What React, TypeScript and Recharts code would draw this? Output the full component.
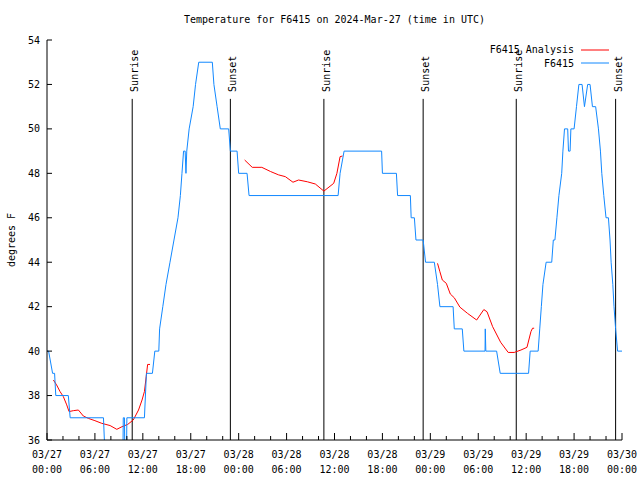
import { LineChart, Line, XAxis, YAxis, ReferenceLine, Legend } from "recharts";

const FONT = '"DejaVu Sans Mono", monospace';

// hours since 03/27 00:00 UTC
const hourTicks = [0, 2, 4, 6, 8, 10, 12, 14, 16, 18, 20, 22, 24, 26, 28, 30, 32, 34, 36, 38, 40, 42, 44, 46, 48, 50, 52, 54, 56, 58, 60, 62, 64, 66, 68, 70, 72];
const dayLabels = ["03/27", "03/27", "03/27", "03/27", "03/28", "03/28", "03/28", "03/28", "03/29", "03/29", "03/29", "03/29", "03/30"];
const timeLabels = ["00:00", "06:00", "12:00", "18:00", "00:00", "06:00", "12:00", "18:00", "00:00", "06:00", "12:00", "18:00", "00:00"];
const tempTicks = [36, 38, 40, 42, 44, 46, 48, 50, 52, 54];
const legendOrder = ["F6415 Analysis", "F6415"];

const sunrise = [10.67, 34.67, 58.76];
const sunset = [22.96, 47.1, 71.2];

// station observations [hour, degF]
const obsPoints: [number, number][] = [
  [0, 40], [0.2, 40], [0.7, 39], [0.95, 39], [1.1, 38], [2.67, 38], [2.9, 37], [7.07, 37],
  [7.3, 35], [9.5, 35], [9.55, 37], [9.7, 37], [9.75, 35], [9.95, 35], [10.0, 37], [12.2, 37],
  [12.45, 39], [13.2, 39], [13.5, 40], [14.0, 40], [14.1, 41], [14.5, 42], [14.9, 43], [15.4, 44],
  [15.9, 45], [16.4, 46], [16.7, 47], [16.9, 48], [17.1, 49], [17.3, 49], [17.4, 48], [17.5, 49],
  [17.8, 50], [18.3, 51], [18.6, 52], [19.0, 53], [20.7, 53], [20.9, 52], [21.3, 51], [21.7, 50],
  [22.75, 50], [22.96, 49], [23.8, 49], [24.0, 48], [25.05, 48], [25.3, 47], [36.45, 47], [36.7, 48],
  [37.2, 49], [41.9, 49], [42.0, 48], [43.75, 48], [43.9, 47], [45.5, 47], [45.6, 46], [46.0, 46],
  [46.2, 45], [47.1, 45], [47.4, 44], [48.5, 44], [48.9, 43], [49.2, 42], [50.85, 42], [51.0, 41],
  [52.0, 41], [52.2, 40], [54.85, 40], [54.88, 41], [54.95, 40], [56.3, 40], [56.75, 39], [60.3, 39],
  [60.5, 40], [61.5, 40], [61.7, 41], [61.9, 42], [62.1, 43], [62.5, 44], [63.2, 44], [63.4, 45],
  [63.6, 45], [63.85, 46], [64.1, 47], [64.45, 48], [64.6, 49], [64.8, 50], [65.2, 50], [65.3, 49],
  [65.5, 49], [65.6, 50], [66.0, 50], [66.3, 51], [66.6, 52], [67.0, 52], [67.3, 51], [67.7, 52],
  [68.0, 52], [68.3, 51], [68.7, 51], [69.05, 50], [69.3, 49], [69.47, 48], [69.72, 47], [70.0, 46],
  [70.3, 46], [70.5, 45], [70.64, 44], [70.85, 43], [71.0, 42], [71.2, 41], [71.45, 40], [72, 40],
];

// analysis runs [hour, degF]
const analysisA: [number, number][] = [
  [0.8, 38.7], [1.2, 38.48], [1.63, 38.18], [2.05, 37.95], [2.47, 37.58], [2.76, 37.28], [3.3, 37.32],
  [3.93, 37.35], [4.55, 37.08], [5.2, 36.97], [6.0, 36.87], [6.86, 36.75], [7.9, 36.65], [8.74, 36.48],
  [9.4, 36.6], [10.1, 36.7], [10.8, 36.9], [11.46, 37.35], [11.9, 37.8], [12.2, 38.18], [12.42, 38.85],
  [12.6, 39.4], [12.9, 39.4],
];
const analysisB: [number, number][] = [
  [24.75, 48.6], [25.7, 48.27], [26.9, 48.27], [28.0, 48.08], [29.0, 47.93], [29.85, 47.85], [30.8, 47.6],
  [31.5, 47.7], [32.6, 47.62], [33.6, 47.52], [34.67, 47.2], [35.9, 47.55], [36.3, 48.0], [36.7, 48.75],
  [37.0, 48.78],
];
const analysisC: [number, number][] = [
  [48.9, 43.95], [49.2, 43.57], [49.5, 43.2], [50.0, 43.05], [50.5, 42.57], [51.0, 42.4], [51.7, 41.98],
  [52.65, 41.7], [53.8, 41.4], [54.7, 41.87], [55.1, 41.77], [55.8, 41.1], [56.8, 40.4], [57.75, 39.94],
  [58.5, 39.94], [59.35, 40.05], [60.1, 40.17], [60.6, 40.88], [60.8, 41.03], [61.0, 41.03],
];

const toRows = (pts: [number, number][]) => pts.map(([h, t]) => ({ h, t }));

const RED = "#ff0000";
const BLUE = "#1188ff";

function BottomTick({ x, y, payload }: any) {
  const v = payload.value;
  const major = v % 6 === 0;
  const i = v / 6;
  return (
    <g>
      <line x1={x} x2={x} y1={y} y2={y - (major ? 7 : 4)} stroke="#000" />
      {major && (
        <text x={x} textAnchor="middle" fontFamily={FONT} fontSize={10} fill="#000">
          <tspan x={x} y={y + 18}>{dayLabels[i]}</tspan>
          <tspan x={x} y={y + 33}>{timeLabels[i]}</tspan>
        </text>
      )}
    </g>
  );
}

function TopTick({ x, y, payload }: any) {
  const major = payload.value % 6 === 0;
  return <line x1={x} x2={x} y1={y} y2={y + (major ? 7 : 4)} stroke="#000" />;
}

function LeftTick({ x, y, payload }: any) {
  return (
    <g>
      <line x1={x} x2={x + 5} y1={y} y2={y} stroke="#000" />
      <text x={x - 7} y={y} dy="0.35em" textAnchor="end" fontFamily={FONT} fontSize={10} fill="#000">
        {payload.value}
      </text>
    </g>
  );
}

function RightTick({ x, y }: any) {
  return <line x1={x} x2={x - 5} y1={y} y2={y} stroke="#000" />;
}

function SunLabel({ viewBox, text }: any) {
  const tx = viewBox.x + 6;
  const ty = viewBox.y - 7;
  return (
    <text x={tx} y={ty} transform={`rotate(-90 ${tx} ${ty})`} textAnchor="start" fontFamily={FONT} fontSize={10} fill="#000">
      {text}
    </text>
  );
}

function AxisTitle({ viewBox }: any) {
  const cx = 11;
  const cy = viewBox.y + viewBox.height / 2;
  return (
    <text x={cx} y={cy} transform={`rotate(-90 ${cx} ${cy})`} textAnchor="middle" dominantBaseline="central" fontFamily={FONT} fontSize={10} fill="#000">
      degrees F
    </text>
  );
}

function LegendBox({ payload }: any) {
  const items = (payload || [])
    .filter((p: any) => p.type !== "none")
    .sort((a: any, b: any) => legendOrder.indexOf(a.value) - legendOrder.indexOf(b.value));
  return (
    <div style={{ fontFamily: FONT, fontSize: 10, color: "#000" }}>
      {items.map((p: any) => (
        <div key={p.value} style={{ display: "flex", alignItems: "center", justifyContent: "flex-end", height: 13.5 }}>
          <span style={{ lineHeight: "13px" }}>{p.value}</span>
          <svg width={36} height={4} style={{ display: "block" }}>
            <line x1={7} x2={35} y1={2} y2={2} stroke={p.color} />
          </svg>
        </div>
      ))}
    </div>
  );
}

export default function App() {
  return (
    <div style={{ position: "absolute", left: 0, top: 0, width: 640, height: 480, background: "#fff" }}>
      <div
        style={{
          position: "absolute",
          left: 47,
          width: 575,
          top: 13,
          textAlign: "center",
          fontFamily: FONT,
          fontSize: 10,
          lineHeight: "14px",
        }}
      >
        Temperature for F6415 on 2024-Mar-27 (time in UTC)
      </div>
      <LineChart width={640} height={480} margin={{ top: 40, right: 18, bottom: 0, left: 0 }}>
        <XAxis
          dataKey="h"
          type="number"
          domain={[0, 72]}
          allowDataOverflow
          ticks={hourTicks}
          interval={0}
          height={40}
          tickSize={0}
          tickMargin={0}
          tickLine={false}
          axisLine={{ stroke: "#000" }}
          tick={<BottomTick />}
        />
        <XAxis
          xAxisId="top"
          orientation="top"
          dataKey="h"
          type="number"
          domain={[0, 72]}
          allowDataOverflow
          ticks={hourTicks}
          interval={0}
          height={0}
          tickSize={0}
          tickMargin={0}
          tickLine={false}
          axisLine={{ stroke: "#000" }}
          tick={<TopTick />}
        />
        <YAxis
          type="number"
          domain={[36, 54]}
          allowDataOverflow
          ticks={tempTicks}
          interval={0}
          width={47}
          tickSize={0}
          tickMargin={0}
          tickLine={false}
          axisLine={{ stroke: "#000" }}
          tick={<LeftTick />}
          label={(p: any) => <AxisTitle {...p} />}
        />
        <YAxis
          yAxisId="right"
          orientation="right"
          type="number"
          domain={[36, 54]}
          allowDataOverflow
          ticks={tempTicks}
          interval={0}
          width={0}
          tickSize={0}
          tickMargin={0}
          tickLine={false}
          axisLine={{ stroke: "#000" }}
          tick={<RightTick />}
        />
        {sunrise.map((h) => (
          <ReferenceLine
            key={`sr${h}`}
            segment={[{ x: h, y: 36 }, { x: h, y: 51.35 }]}
            stroke="#000"
            ifOverflow="visible"
            label={(p: any) => <SunLabel {...p} text="Sunrise" />}
          />
        ))}
        {sunset.map((h) => (
          <ReferenceLine
            key={`ss${h}`}
            segment={[{ x: h, y: 36 }, { x: h, y: 51.35 }]}
            stroke="#000"
            ifOverflow="visible"
            label={(p: any) => <SunLabel {...p} text="Sunset" />}
          />
        ))}
        <Line
          data={toRows(analysisA)}
          dataKey="t"
          name="F6415 Analysis"
          stroke={RED}
          strokeWidth={1}
          dot={false}
          activeDot={false}
          isAnimationActive={false}
        />
        <Line
          data={toRows(analysisB)}
          dataKey="t"
          name="F6415 Analysis B"
          legendType="none"
          stroke={RED}
          strokeWidth={1}
          dot={false}
          activeDot={false}
          isAnimationActive={false}
        />
        <Line
          data={toRows(analysisC)}
          dataKey="t"
          name="F6415 Analysis C"
          legendType="none"
          stroke={RED}
          strokeWidth={1}
          dot={false}
          activeDot={false}
          isAnimationActive={false}
        />
        <Line
          data={toRows(obsPoints)}
          dataKey="t"
          name="F6415"
          stroke={BLUE}
          strokeWidth={1}
          dot={false}
          activeDot={false}
          isAnimationActive={false}
        />
        <Legend
          layout="horizontal"
          verticalAlign="middle"
          align="center"
          content={<LegendBox />}
          wrapperStyle={{ position: "absolute", top: 43, left: 440, width: 170, height: 28 }}
        />
      </LineChart>
    </div>
  );
}
